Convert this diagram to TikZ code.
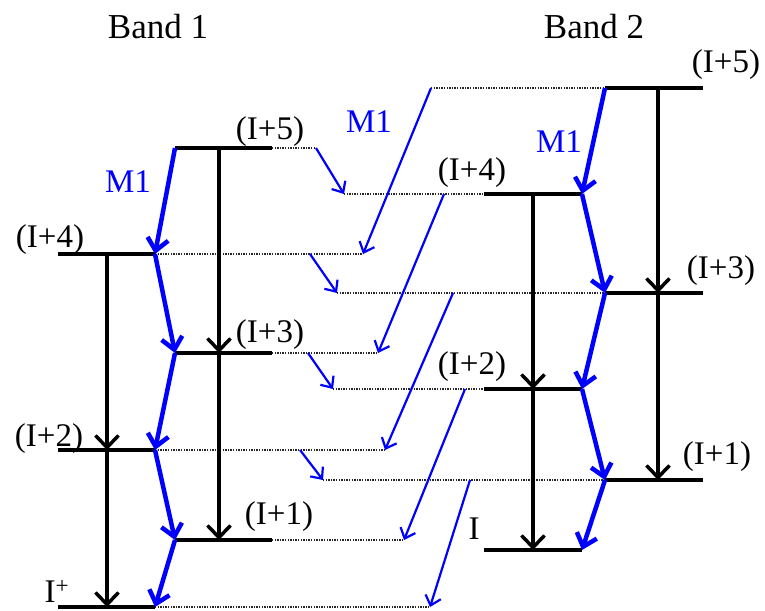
\documentclass[tikz,border=0pt]{standalone}
\usepackage{fontspec}
\setmainfont{Liberation Serif}
\usetikzlibrary{arrows.meta}
\begin{document}
\begin{tikzpicture}[x=1pt,y=-1pt,line join=round]
	\tikzset{every node/.style={font=\fontsize{33}{36}\selectfont,inner sep=0pt},
		lev/.style={line width=4pt},
		etwo/.style={line width=3.5pt,-{Straight Barb[length=12pt,width=23pt]}},
		mone/.style={blue,line width=4.5pt,-{Straight Barb[length=12pt,width=21pt]}},
		mthin/.style={blue,line width=2.2pt,-{Straight Barb[length=9pt,width=16pt]}},
		guide/.style={black!85,line width=1.4pt,dash pattern=on 1.3pt off 1.3pt}}
	\useasboundingbox (0,0) rectangle (765,610);
	\foreach \n/\x/\v/\y in {5/175/219/148,4/58/107/254,3/175/219/353,2/58/107/450,1/175/219/540,0/58/107/607}{
		\coordinate (al\n) at (\x,\y);
		\coordinate (ar\n) at (\x+97,\y);
		\coordinate (av\n) at (\v,\y);
	}
	\foreach \n/\x/\v/\y in {5/605/658/88,4/484/533/194,3/605/658/293,2/484/533/389,1/605/658/480,0/484/533/550}{
		\coordinate (bl\n) at (\x,\y);
		\coordinate (br\n) at (\x+98,\y);
		\coordinate (bv\n) at (\v,\y);
	}
	\foreach \n/\x/\y in {5/316/148,4/363/254,3/378/353,2/385/450,1/404/540,0/430/607}
		\coordinate (ae\n) at (\x,\y);
	\foreach \n/\x/\y in {5/316/148,4/310/254,3/308/353,2/300/450}
		\coordinate (as\n) at (\x,\y);
	\foreach \n/\x/\y in {5/431/88,4/344/194,3/337/293,2/333/389,1/323/480}
		\coordinate (be\n) at (\x,\y);
	\foreach \n/\x/\y in {5/431/88,4/444/194,3/453/293,2/465/389,1/470/480}
		\coordinate (bs\n) at (\x,\y);

	\foreach \n in {0,...,5} \draw[guide] (ar\n) -- (ae\n);
	\foreach \n in {1,...,5} \draw[guide] (be\n) -- (bl\n);
	\foreach \n in {0,...,5} {
		\draw[lev] (al\n) -- (ar\n);
		\draw[lev] (bl\n) -- (br\n);
	}
	\foreach \n/\m in {5/4,4/3,3/2,2/1} \draw[mthin] (as\n) -- (be\m);
	\foreach \n/\m in {5/4,4/3,3/2,2/1,1/0} \draw[mthin] (bs\n) -- (ae\m);
	\foreach \u/\d in {5/3,3/1,4/2,2/0} {
		\draw[etwo] (av\u) -- (av\d);
		\draw[etwo] (bv\u) -- (bv\d);
	}
	\foreach \u/\d in {5/4,3/2,1/0} {
		\draw[mone] (al\u) -- (ar\d);
		\draw[mone] (bl\u) -- (br\d);
	}
	\foreach \u/\d in {4/3,2/1} {
		\draw[mone] (ar\u) -- (al\d);
		\draw[mone] (br\u) -- (bl\d);
	}

	\node (band1) at (158,27) {\fontsize{35}{40}\selectfont Band 1};
	\node (band2) at (594,27) {\fontsize{35}{40}\selectfont Band 2};
	\node (la5) at (270,132) {(I+5)};
	\node (la4) at (50,240) {(I+4)};
	\node (la3) at (270,335) {(I+3)};
	\node (la2) at (49,439) {(I+2)};
	\node (la1) at (279,517) {(I+1)};
	\node (la0) at (57,591) {I\textsuperscript{+}};
	\node (lb5) at (726,65) {(I+5)};
	\node (lb4) at (472,173) {(I+4)};
	\node (lb3) at (721,271) {(I+3)};
	\node (lb2) at (472,367) {(I+2)};
	\node (lb1) at (717,457) {(I+1)};
	\node (lb0) at (474,529) {I};
	\node[blue] (mA) at (128,182) {M1};
	\node[blue] (mX) at (369,122) {M1};
	\node[blue] (mB) at (559,142) {M1};
\end{tikzpicture}
\end{document}
